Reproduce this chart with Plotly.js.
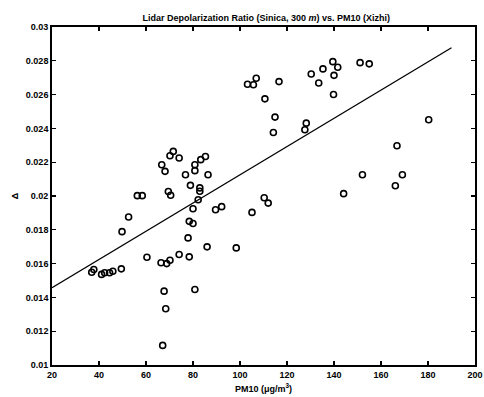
<!DOCTYPE html>
<html>
<head>
<meta charset="utf-8">
<script src="https://cdn.plot.ly/plotly-3.0.1.min.js"></script>
<style>
html,body{margin:0;padding:0;background:#fff;}
#chart{width:484px;height:397px;}
</style>
</head>
<body>
<div id="chart"></div>
<script>
// PM10 (µg/m³) values
const pm10 = [
  36.9, 37.8, 41.1, 42.4, 44.5, 45.9, 49.5, 49.8, 52.6, 56.3,
  58.4, 60.4, 66.4, 68.8, 70.2, 74.1, 78.4, 67.7, 80.8, 68.4,
  67.1, 66.7, 68.1, 70.2, 71.6, 74.1, 76.8, 69.5, 70.5, 78.9,
  80.8, 80.8, 83.3, 85.3, 86.4, 82.9, 82.9, 82.2, 80.0, 78.4,
  80.0, 77.9, 86.0, 98.4, 89.6, 92.2, 105.1, 110.3, 112.0, 103.2,
  105.7, 106.9, 116.6, 110.6, 114.9, 114.2, 128.2, 127.6, 130.3, 133.5,
  135.3, 139.5, 141.6, 140.0, 139.8, 151.1, 155.0, 180.3, 166.8, 152.1,
  169.1, 166.1, 144.1
];
// Lidar depolarization ratio values
const delta = [
  0.01549, 0.01565, 0.01536, 0.01546, 0.01546, 0.01555, 0.01569, 0.01789, 0.01876, 0.02002,
  0.02002, 0.01638, 0.01605, 0.01600, 0.01620, 0.01654, 0.01640, 0.01437, 0.01447, 0.01333,
  0.01116, 0.02185, 0.02146, 0.02238, 0.02264, 0.02225, 0.02126, 0.02027, 0.02004, 0.02063,
  0.02185, 0.02150, 0.02215, 0.02234, 0.02126, 0.02048, 0.02028, 0.01978, 0.01925, 0.01850,
  0.01837, 0.01752, 0.01699, 0.01693, 0.01919, 0.01937, 0.01903, 0.01990, 0.01958, 0.02661,
  0.02658, 0.02697, 0.02677, 0.02575, 0.02467, 0.02376, 0.02431, 0.02392, 0.02722, 0.02669,
  0.02752, 0.02795, 0.02762, 0.02714, 0.02601, 0.02789, 0.02782, 0.02451, 0.02297, 0.02126,
  0.02126, 0.02061, 0.02014
];
// Fitted line
const fitX = [20, 190];
const fitY = [0.01457, 0.02877];

const xTicks = [20, 40, 60, 80, 100, 120, 140, 160, 180, 200];
const xTickText = ["20","40","60","80","100","120","140","160","180","200"];
const yTicks = [0.01, 0.012, 0.014, 0.016, 0.018, 0.02, 0.022, 0.024, 0.026, 0.028, 0.03];
const yTickText = ["0.01","0.012","0.014","0.016","0.018","0.02","0.022","0.024","0.026","0.028","0.03"];

const tickFont = {family: "Liberation Sans, Arial, sans-serif", size: 9, color: "#000", weight: "bold"};

const traces = [
  {
    x: fitX, y: fitY, type: "scatter", mode: "lines",
    line: {color: "#000", width: 1.3},
    hoverinfo: "skip", showlegend: false
  },
  {
    x: pm10, y: delta, type: "scatter", mode: "markers",
    marker: {symbol: "circle-open", size: 6, color: "#000", line: {color: "#000", width: 1.6}},
    showlegend: false
  }
];

const layout = {
  width: 484, height: 397,
  paper_bgcolor: "#fff", plot_bgcolor: "#fff",
  margin: {l: 52, r: 9, t: 27, b: 32, pad: 0},
  showlegend: false,
  title: {
    text: "Lidar Depolarization Ratio (Sinica, 300 <i>m</i>) vs. PM10 (Xizhi)",
    font: {family: "Liberation Sans, Arial, sans-serif", size: 9, color: "#000", weight: "bold"},
    x: 0.55, xanchor: "center", y: 0.955, yanchor: "middle"
  },
  xaxis: {
    range: [20, 200], tickmode: "array", tickvals: xTicks, ticktext: xTickText,
    ticks: "inside", ticklen: 4, tickwidth: 1.3, tickcolor: "#000",
    showline: true, linecolor: "#000", linewidth: 1.8, mirror: "ticks",
    showgrid: false, zeroline: false, tickfont: tickFont,
    ticklabeloverflow: "allow",
    title: {text: "PM10 (μg/m<sup>3</sup>)", font: {family: "Liberation Sans, Arial, sans-serif", size: 9, color: "#000", weight: "bold"}, standoff: 7}
  },
  yaxis: {
    range: [0.01, 0.03], tickmode: "array", tickvals: yTicks, ticktext: yTickText,
    ticks: "inside", ticklen: 4, tickwidth: 1.3, tickcolor: "#000",
    showline: true, linecolor: "#000", linewidth: 1.8, mirror: "ticks",
    showgrid: false, zeroline: false, tickfont: tickFont,
    ticklabeloverflow: "allow",
    title: {text: "Δ", font: {family: "Liberation Sans, Arial, sans-serif", size: 9, color: "#000", weight: "bold"}, standoff: 6}
  }
};

Plotly.newPlot("chart", traces, layout, {displayModeBar: false, staticPlot: true});
</script>
</body>
</html>
